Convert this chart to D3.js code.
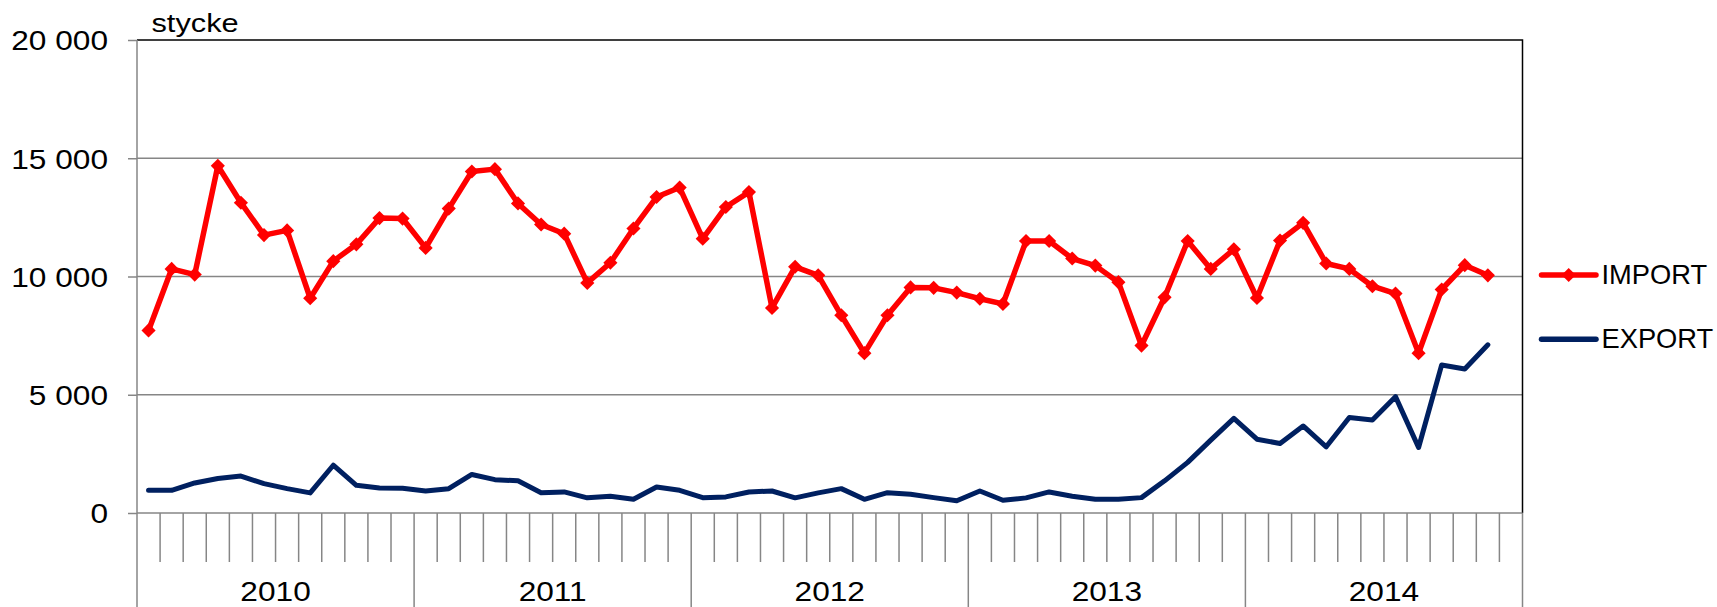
<!DOCTYPE html>
<html>
<head>
<meta charset="utf-8">
<script src="https://cdn.jsdelivr.net/npm/d3@7"></script>
<style>
  body { margin: 0; background: #fff; }
  svg text { font-family: "Liberation Sans", Arial, sans-serif; fill: #000; }
</style>
</head>
<body>
<div id="chart"></div>
<script>

// categories
var years = ["2010", "2011", "2012", "2013", "2014"];
var monthNames = ["jan", "feb", "mar", "apr", "maj", "jun", "jul", "aug", "sep", "okt", "nov", "dec"];
var months = years.flatMap(function(y) { return monthNames.map(function(m) { return y + "-" + m; }); });

// series (stycke per month, jan 2010 - nov 2014)
var importValues = [
	7720, 10320, 10080, 14680, 13120, 11750, 11950, 9080, 10650, 11360, 12470, 12450,
	11210, 12870, 14440, 14540, 13090, 12200, 11810, 9730, 10580, 12030, 13360, 13760,
	11600, 12940, 13570, 8670, 10410, 10050, 8360, 6760, 8360, 9540, 9520, 9320,
	9060, 8840, 11500, 11500, 10760, 10460, 9760, 7080, 9120, 11500, 10320, 11150,
	9090, 11520, 12270, 10550, 10320, 9590, 9280, 6760, 9450, 10480, 10050
];
var exportValues = [
	960, 960, 1270, 1460, 1560, 1240, 1030, 850, 2020, 1170, 1060, 1050,
	930, 1030, 1630, 1410, 1360, 860, 890, 640, 710, 580, 1100, 960,
	650, 680, 890, 930, 640, 850, 1030, 580, 860, 790, 650, 520,
	930, 540, 640, 890, 710, 580, 580, 650, 1360, 2140, 3080, 4000,
	3120, 2940, 3680, 2800, 4040, 3930, 4920, 2770, 6260, 6090, 7110
];
var seriesNames = ["IMPORT", "EXPORT"];
var seriesColors = ["#ff0000", "#002060"];
var yTicks = [0, 5000, 10000, 15000, 20000];
var yLabel = "stycke";

var W = 1717, H = 607;
var margin = {top: 40, left: 137, right: 194.5, bottom: 94};
var plotR = W - margin.right, plotB = H - margin.bottom;

var svg = d3.select("#chart").append("svg")
	.attr("width", W)
	.attr("height", H);

var x = d3.scaleBand().domain(months).range([margin.left, plotR]);
var y = d3.scaleLinear().domain([0, 20000]).range([plotB, margin.top]);
var cx = function(d) { return x(d.month) + x.bandwidth() / 2; };

var locale = d3.formatLocale({decimal: ",", thousands: " ", grouping: [3], currency: ["", " kr"]});
var fmt = locale.format(",d");

var series = [importValues, exportValues].map(function(vals, i) {
	return {
		name: seriesNames[i],
		color: seriesColors[i],
		values: vals.map(function(v, j) { return {month: months[j], value: v}; })
	};
});

// gridlines
svg.append("g").selectAll("line")
	.data(yTicks.slice(1, -1))
	.enter().append("line")
		.attr("x1", margin.left).attr("x2", plotR)
		.attr("y1", function(d) { return y(d); })
		.attr("y2", function(d) { return y(d); })
		.attr("stroke", "#868686")
		.attr("stroke-width", 1.5);

// plot border top/right (black)
svg.append("path")
	.attr("d", "M" + margin.left + "," + margin.top + "H" + plotR + "V" + plotB)
	.attr("fill", "none")
	.attr("stroke", "#000")
	.attr("stroke-width", 1.5);

// y axis
var yAxis = svg.append("g")
	.attr("transform", "translate(" + margin.left + ",0)")
	.call(d3.axisLeft(y).tickValues(yTicks).tickSize(9).tickFormat(fmt));
yAxis.select(".domain").remove();
yAxis.selectAll("line").attr("stroke", "#868686").attr("stroke-width", 1.5);
yAxis.selectAll("text")
	.attr("font-size", 28)
	.attr("font-family", "Liberation Sans, Arial, sans-serif")
	.attr("x", -29 / 1.13)
	.attr("dy", "0.35em")
	.attr("transform", "scale(1.13,1)");
svg.append("line")
	.attr("x1", margin.left).attr("x2", margin.left)
	.attr("y1", margin.top).attr("y2", H)
	.attr("stroke", "#868686").attr("stroke-width", 1.5);

// x axis
svg.append("line")
	.attr("x1", margin.left).attr("x2", plotR)
	.attr("y1", plotB).attr("y2", plotB)
	.attr("stroke", "#868686").attr("stroke-width", 1.5);

svg.append("g").selectAll("line")
	.data(months.slice(1).concat(["end"]))
	.enter().append("line")
		.attr("x1", function(d) { return d === "end" ? plotR : x(d); })
		.attr("x2", function(d) { return d === "end" ? plotR : x(d); })
		.attr("y1", plotB)
		.attr("y2", function(d) { return (d === "end" || d.slice(5) === "jan") ? H : plotB + 49; })
		.attr("stroke", "#868686")
		.attr("stroke-width", 1.5);

svg.append("g").selectAll("text")
	.data(years)
	.enter().append("text")
		.attr("transform", function(d) {
			var x0 = x(d + "-jan"), x1 = x(d + "-dec") + x.bandwidth();
			return "translate(" + ((x0 + x1) / 2) + "," + (plotB + 88) + ") scale(1.13,1)";
		})
		.attr("text-anchor", "middle")
		.attr("font-size", 28)
		.text(function(d) { return d; });

// unit label
svg.append("text")
	.attr("transform", "translate(151.5,31.5) scale(1.16,1)")
	.attr("font-size", 26.5)
	.text(yLabel);

// lines
var line = d3.line().x(cx).y(function(d) { return y(d.value); });

svg.append("g").selectAll("path")
	.data(series.slice().reverse())
	.enter().append("path")
		.attr("d", function(d) { return line(d.values); })
		.attr("fill", "none")
		.attr("stroke", function(d) { return d.color; })
		.attr("stroke-width", function(d) { return d.name === "IMPORT" ? 5.5 : 5; })
		.attr("stroke-linejoin", "round")
		.attr("stroke-linecap", "round");

var diamond = d3.symbol().type(d3.symbolSquare).size(100);
svg.append("g").selectAll("path")
	.data(series[0].values)
	.enter().append("path")
		.attr("d", diamond)
		.attr("transform", function(d) { return "translate(" + cx(d) + "," + y(d.value) + ") rotate(45)"; })
		.attr("fill", seriesColors[0]);

// legend
var legend = svg.append("g").selectAll("g")
	.data(series)
	.enter().append("g")
		.attr("transform", function(d, i) { return "translate(1541.5," + (275 + i * 64.3) + ")"; });
legend.append("line")
	.attr("x1", 0).attr("x2", 54.5)
	.attr("stroke", function(d) { return d.color; })
	.attr("stroke-width", 5.5)
	.attr("stroke-linecap", "round");
legend.filter(function(d) { return d.name === "IMPORT"; }).append("path")
	.attr("d", diamond)
	.attr("transform", "translate(27.2,0) rotate(45)")
	.attr("fill", seriesColors[0]);
legend.append("text")
	.attr("x", 60)
	.attr("y", 8.5)
	.attr("font-size", 27.3)
	.text(function(d) { return d.name; });

</script>
</body>
</html>
